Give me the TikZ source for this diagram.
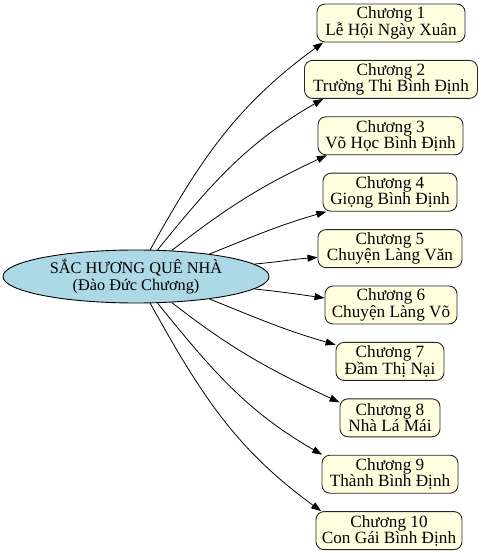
\documentclass[tikz,border=0pt]{standalone}
\usepackage{fontspec}
\setmainfont{Liberation Serif}
\usetikzlibrary{shapes.geometric,arrows.meta}
\definecolor{lblue}{HTML}{ADD8E6}
\definecolor{lyellow}{HTML}{FFFFE0}
\tikzset{
  rootnode/.style={ellipse, draw=black, line width=0.9pt, fill=lblue, minimum width=266pt, minimum height=53pt, inner sep=0pt, align=center, font=\fontsize{16.3}{17}\selectfont},
  chapbox/.style={rectangle, rounded corners=8pt, draw=black!85, line width=0.9pt, fill=lyellow, minimum height=38pt, inner sep=0pt, align=center, font=\fontsize{17.2}{16.3}\selectfont},
  link/.style={draw=black, line width=0.8pt, -{Triangle[length=10pt,width=7pt]}}
}
\begin{document}
\begin{tikzpicture}[x=1pt,y=1pt]
\useasboundingbox (0,0) rectangle (480,-553);
\node[rootnode] (c) at (136,-276.5) {SẮC HƯƠNG QUÊ NHÀ\\(Đào Đức Chương)};
\node[chapbox, minimum width=148pt] (b1) at (391,-23) {Chương 1\\Lễ Hội Ngày Xuân};
\node[chapbox, minimum width=173pt] (b2) at (391,-79.4) {Chương 2\\Trường Thi Bình Định};
\node[chapbox, minimum width=145pt] (b3) at (390.5,-135.8) {Chương 3\\Võ Học Bình Định};
\node[chapbox, minimum width=134pt] (b4) at (390,-192.2) {Chương 4\\Giọng Bình Định};
\node[chapbox, minimum width=144pt] (b5) at (390,-248.6) {Chương 5\\Chuyện Làng Văn};
\node[chapbox, minimum width=132pt] (b6) at (391,-305) {Chương 6\\Chuyện Làng Võ};
\node[chapbox, minimum width=108pt] (b7) at (390,-361.4) {Chương 7\\Đầm Thị Nại};
\node[chapbox, minimum width=100pt] (b8) at (390,-417.8) {Chương 8\\Nhà Lá Mái};
\node[chapbox, minimum width=136pt] (b9) at (390,-474.2) {Chương 9\\Thành Bình Định};
\node[chapbox, minimum width=146pt] (b10) at (389,-530.6) {Chương 10\\Con Gái Bình Định};
\draw[link] (c.62) to[out=61,in=216] (b1.196);
\draw[link] (c.51) to[out=51,in=210] (b2.196);
\draw[link] (c.36) to[out=38,in=205] (b3.197);
\draw[link] (c.17) to[out=22,in=196] (b4.197);
\draw[link] (c.6) to[out=5,in=184] (b5.187);
\draw[link] (c.-6) to[out=-6,in=172] (b6.174);
\draw[link] (c.-17) to[out=-22,in=164] (b7.163);
\draw[link] (c.-36) to[out=-38,in=155] (b8.163);
\draw[link] (c.-51) to[out=-51,in=150] (b9.164);
\draw[link] (c.-62) to[out=-61,in=144] (b10.164);
\end{tikzpicture}
\end{document}
